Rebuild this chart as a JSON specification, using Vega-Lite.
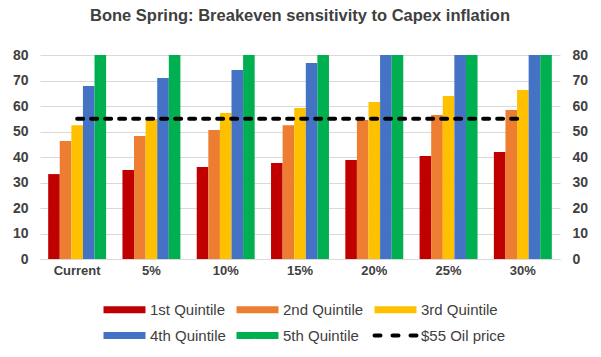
{
  "$schema": "https://vega.github.io/schema/vega-lite/v6.json",
  "width": 520,
  "height": 204,
  "autosize": {"type": "none"},
  "padding": {"left": 40, "top": 55, "right": 41, "bottom": 98},
  "background": "white",
  "title": {
    "text": "Bone Spring: Breakeven sensitivity to Capex inflation",
    "font": "Liberation Sans",
    "fontSize": 16.5,
    "fontWeight": "bold",
    "color": "#404040",
    "anchor": "middle",
    "offset": 24
  },
  "config": {
    "view": {"stroke": null},
    "font": "Liberation Sans"
  },
  "datasets": {
    "bars": [
      {"cat": "Current", "series": "1st Quintile", "value": 33.3},
      {"cat": "Current", "series": "2nd Quintile", "value": 46.3},
      {"cat": "Current", "series": "3rd Quintile", "value": 52.5},
      {"cat": "Current", "series": "4th Quintile", "value": 67.8},
      {"cat": "Current", "series": "5th Quintile", "value": 80},
      {"cat": "5%", "series": "1st Quintile", "value": 34.9},
      {"cat": "5%", "series": "2nd Quintile", "value": 48.2},
      {"cat": "5%", "series": "3rd Quintile", "value": 54.9},
      {"cat": "5%", "series": "4th Quintile", "value": 71.0},
      {"cat": "5%", "series": "5th Quintile", "value": 80},
      {"cat": "10%", "series": "1st Quintile", "value": 36.1},
      {"cat": "10%", "series": "2nd Quintile", "value": 50.6},
      {"cat": "10%", "series": "3rd Quintile", "value": 57.3},
      {"cat": "10%", "series": "4th Quintile", "value": 74.1},
      {"cat": "10%", "series": "5th Quintile", "value": 80},
      {"cat": "15%", "series": "1st Quintile", "value": 37.6},
      {"cat": "15%", "series": "2nd Quintile", "value": 52.5},
      {"cat": "15%", "series": "3rd Quintile", "value": 59.2},
      {"cat": "15%", "series": "4th Quintile", "value": 76.9},
      {"cat": "15%", "series": "5th Quintile", "value": 80},
      {"cat": "20%", "series": "1st Quintile", "value": 38.8},
      {"cat": "20%", "series": "2nd Quintile", "value": 54.5},
      {"cat": "20%", "series": "3rd Quintile", "value": 61.6},
      {"cat": "20%", "series": "4th Quintile", "value": 80},
      {"cat": "20%", "series": "5th Quintile", "value": 80},
      {"cat": "25%", "series": "1st Quintile", "value": 40.4},
      {"cat": "25%", "series": "2nd Quintile", "value": 56.5},
      {"cat": "25%", "series": "3rd Quintile", "value": 63.9},
      {"cat": "25%", "series": "4th Quintile", "value": 80},
      {"cat": "25%", "series": "5th Quintile", "value": 80},
      {"cat": "30%", "series": "1st Quintile", "value": 42.0},
      {"cat": "30%", "series": "2nd Quintile", "value": 58.4},
      {"cat": "30%", "series": "3rd Quintile", "value": 66.3},
      {"cat": "30%", "series": "4th Quintile", "value": 80},
      {"cat": "30%", "series": "5th Quintile", "value": 80}
    ],
    "oil": [
      {"cat": "Current", "series": "$55 Oil price", "value": 55},
      {"cat": "5%", "series": "$55 Oil price", "value": 55},
      {"cat": "10%", "series": "$55 Oil price", "value": 55},
      {"cat": "15%", "series": "$55 Oil price", "value": 55},
      {"cat": "20%", "series": "$55 Oil price", "value": 55},
      {"cat": "25%", "series": "$55 Oil price", "value": 55},
      {"cat": "30%", "series": "$55 Oil price", "value": 55}
    ]
  },
  "encoding": {
    "x": {
      "field": "cat",
      "type": "nominal",
      "sort": ["Current", "5%", "10%", "15%", "20%", "25%", "30%"],
      "scale": {"paddingInner": 0.22, "paddingOuter": 0.11},
      "axis": {
        "title": null,
        "labelAngle": 0,
        "labelFont": "Liberation Sans",
        "labelFontSize": 13,
        "labelFontWeight": "bold",
        "labelColor": "#404040",
        "labelPadding": 5,
        "ticks": false,
        "domainColor": "#d9d9d9",
        "domainWidth": 1
      }
    },
    "color": {
      "field": "series",
      "type": "nominal",
      "scale": {
        "domain": ["1st Quintile", "2nd Quintile", "3rd Quintile", "4th Quintile", "5th Quintile", "$55 Oil price"],
        "range": ["#C00000", "#ED7D31", "#FFC000", "#4472C4", "#00B050", "#000000"]
      },
      "legend": {
        "title": null,
        "orient": "none",
        "legendX": 77,
        "legendY": 247,
        "direction": "horizontal",
        "columns": 3,
        "columnPadding": -4,
        "rowPadding": -3,
        "symbolType": "M-6,0H6",
        "symbolSize": 49,
        "symbolStrokeWidth": 7,
        "labelFont": "Liberation Sans",
        "labelFontSize": 15,
        "labelFontWeight": "normal",
        "labelColor": "#404040",
        "labelOffset": 18,
        "encode": {
          "symbols": {
            "update": {
              "fill": {"value": "transparent"},
              "stroke": {"scale": "color", "field": "value"},
              "strokeDash": {"signal": "datum.value == '$55 Oil price' ? [6, 12] : [1, 0]"},
              "strokeCap": {"signal": "datum.value == '$55 Oil price' ? 'round' : 'butt'"},
              "strokeWidth": {"signal": "datum.value == '$55 Oil price' ? 4 : 7"}
            }
          }
        }
      }
    }
  },
  "layer": [
    {
      "data": {"name": "bars"},
      "mark": {"type": "bar", "strokeWidth": 0},
      "encoding": {
        "xOffset": {
          "field": "series",
          "type": "nominal",
          "sort": ["1st Quintile", "2nd Quintile", "3rd Quintile", "4th Quintile", "5th Quintile"],
          "scale": {"paddingInner": 0, "paddingOuter": 0}
        },
        "y": {
          "field": "value",
          "type": "quantitative",
          "scale": {"domain": [0, 80], "nice": false},
          "axis": {
            "title": null,
            "values": [0, 10, 20, 30, 40, 50, 60, 70, 80],
            "grid": true,
            "gridColor": "#d9d9d9",
            "gridWidth": 1,
            "domain": false,
            "ticks": false,
            "labelFont": "Liberation Sans",
            "labelFontSize": 14,
            "labelFontWeight": "bold",
            "labelColor": "#404040",
            "labelPadding": 12
          }
        }
      }
    },
    {
      "data": {"name": "oil"},
      "mark": {"type": "line", "strokeWidth": 4, "strokeDash": [6, 8], "strokeCap": "round"},
      "encoding": {
        "y": {
          "field": "value",
          "type": "quantitative",
          "scale": {"domain": [0, 80], "nice": false},
          "axis": {
            "orient": "right",
            "title": null,
            "values": [0, 10, 20, 30, 40, 50, 60, 70, 80],
            "grid": false,
            "domain": false,
            "ticks": false,
            "labelFont": "Liberation Sans",
            "labelFontSize": 14,
            "labelFontWeight": "bold",
            "labelColor": "#404040",
            "labelPadding": 12
          }
        }
      }
    }
  ],
  "resolve": {"scale": {"y": "independent"}}
}
